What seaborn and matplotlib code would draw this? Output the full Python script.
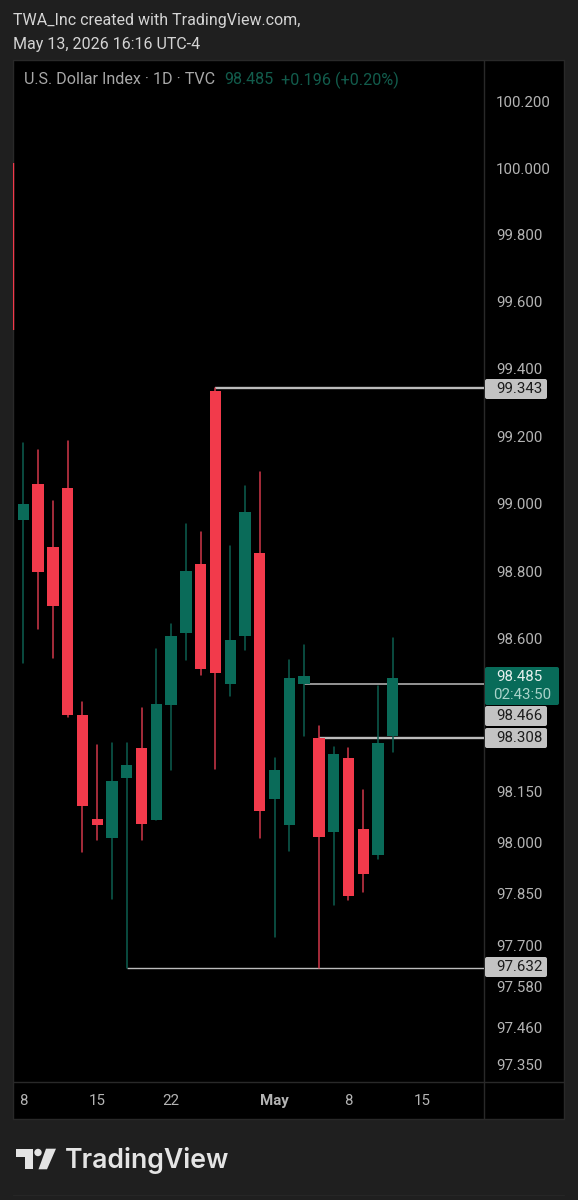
"""TradingView style daily candle chart of the U.S. Dollar Index."""
import matplotlib
matplotlib.use("Agg")
import matplotlib.pyplot as plt
import pandas as pd
import seaborn as sns
from matplotlib.patches import Circle, FancyBboxPatch, Polygon, Rectangle
from matplotlib.transforms import Affine2D

# --- Data (index -1 is the candle cut off by the left edge) ---
day_index = list(range(-1, 26))
opens = [100.015, 98.952, 99.058, 98.871, 99.047, 98.376, 98.069, 98.014, 98.189, 98.279,
         98.065, 98.404, 98.618, 98.822, 99.333, 98.468, 98.609, 98.853, 98.129, 98.053,
         98.466, 98.308, 98.031, 98.249, 98.040, 97.964, 98.312]
closes = [99.516, 98.999, 98.796, 98.697, 98.376, 98.107, 98.051, 98.181, 98.229, 98.055,
          98.409, 98.609, 98.800, 98.510, 98.498, 98.596, 98.975, 98.093, 98.214, 98.483,
          98.489, 98.016, 98.260, 97.843, 97.909, 98.292, 98.485]
highs = [100.015, 99.181, 99.159, 99.009, 99.185, 98.415, 98.286, 98.294, 98.292, 98.397,
         98.569, 98.644, 98.940, 98.916, 99.343, 98.875, 99.051, 99.094, 98.249, 98.538,
         98.581, 98.344, 98.282, 98.279, 98.155, 98.461, 98.601]
lows = [99.516, 98.529, 98.629, 98.544, 98.368, 97.972, 98.008, 97.835, 97.632, 98.008,
        98.065, 98.214, 98.536, 98.493, 98.216, 98.430, 98.567, 98.013, 97.723, 97.974,
        98.314, 97.632, 97.817, 97.832, 97.854, 97.953, 98.267]

price_ticks = [100.2, 100.0, 99.8, 99.6, 99.4, 99.2, 99.0, 98.8, 98.6, 98.15, 98.0,
               97.85, 97.7, 97.58, 97.46, 97.35]
date_ticks = [0, 5, 10, 17, 22, 27]
date_labels = ["8", "15", "22", "May", "8", "15"]

level_prices = [99.343, 98.466, 98.308, 97.632]
level_starts = [13, 19, 20, 7]
level_widths = [1.7, 1.1, 1.7, 1.0]

BG = "#1f1f1f"
BORDER = "#292929"
RED = "#f23a4b"
GREEN = "#0a6b59"
RED_WICK = "#d2384a"
GREEN_WICK = "#0c5f50"
TICK = "#b4b4b4"
LEVEL = "#bcbcbc"


def px_box(x0, y0, x1, y1):
    return [x0 / 578, 1 - y1 / 1200, (x1 - x0) / 578, (y1 - y0) / 1200]


def main():
    sns.set_theme(style="dark", rc={"figure.facecolor": BG, "axes.facecolor": "black"})
    plt.rcParams["font.family"] = ["Roboto", "DejaVu Sans"]

    df = pd.DataFrame({"day": day_index, "open": opens, "close": closes, "high": highs, "low": lows})
    df["up"] = df["close"] >= df["open"]

    fig = plt.figure(figsize=(5.78, 12), dpi=100)
    px = Affine2D().scale(1, -1).translate(0, 1200)  # image pixels, y going down

    # black panel behind price and time scales
    fig.add_artist(Rectangle((13.3, 60), 550.7, 1059, transform=px, fc="black", ec=BORDER, lw=1.0, zorder=-3))
    fig.add_artist(plt.Line2D([484, 484], [60, 1119], transform=px, color=BORDER, lw=1.0, zorder=-2))
    fig.add_artist(plt.Line2D([13.3, 564], [1082, 1082], transform=px, color=BORDER, lw=1.0, zorder=-2))
    fig.add_artist(plt.Line2D([13.3, 564], [1195, 1195], transform=px, color="#262626", lw=0.8, zorder=-2))

    ax = fig.add_axes(px_box(13, 60, 484, 1082))
    ax.patch.set_alpha(0)
    ax.set_yscale("log")
    xlim = (-0.697, 31.17)
    ylim = (97.300, 100.324)
    ax.set_xlim(xlim)
    ax.set_ylim(ylim)

    # levels go under the candles
    for price, start, width in zip(level_prices, level_starts, level_widths):
        ax.hlines(price, start, xlim[1], color=LEVEL, lw=width, zorder=1)

    # wicks, one line per candle
    wicks = df.melt(id_vars=["day", "up"], value_vars=["high", "low"], value_name="price")
    sns.lineplot(data=wicks, x="day", y="price", hue="up", units="day", estimator=None,
                 palette={True: GREEN_WICK, False: RED_WICK}, linewidth=1.1,
                 legend=False, ax=ax, zorder=2)

    # bodies
    body_low = df[["open", "close"]].min(axis=1)
    body_high = df[["open", "close"]].max(axis=1)
    bars = ax.bar(df["day"], body_high - body_low, bottom=body_low, width=0.77,
                  color=[GREEN if u else RED for u in df["up"]], edgecolor="none", linewidth=0, zorder=3)
    bars[0].set_snap(False)

    ax.set_xlim(xlim)
    ax.set_ylim(ylim)
    ax.set_xlabel("")
    ax.set_ylabel("")
    sns.despine(ax=ax, left=True, bottom=True)

    ax.yaxis.tick_right()
    ax.set_yticks(price_ticks)
    ax.set_yticklabels([f"{p:.3f}" for p in price_ticks])
    ax.minorticks_off()
    ax.tick_params(axis="y", length=0, pad=8.5, labelsize=10.8, labelcolor=TICK)
    ax.set_xticks(date_ticks)
    ax.set_xticklabels(date_labels)
    ax.tick_params(axis="x", length=0, pad=8.5, labelsize=10.8, labelcolor=TICK)
    ax.get_xticklabels()[3].set_fontweight("bold")

    # header and legend line
    fig.text(13, 21, "TWA_Inc created with TradingView.com,", transform=px, color="#d4d4d4",
             fontsize=11.5, va="center")
    fig.text(13, 44, "May 13, 2026 16:16 UTC-4", transform=px, color="#d4d4d4",
             fontsize=11.5, va="center")
    fig.text(24, 80, "U.S. Dollar Index · 1D · TVC", transform=px, color="#a8a8a8",
             fontsize=11.6, va="center")
    fig.text(224, 80, "98.485", transform=px, color="#125c4c", fontsize=11.6, va="center")
    fig.text(281, 80, "+0.196 (+0.20%)", transform=px, color="#125c4c", fontsize=11.7, va="center")

    # price labels on the scale
    labels = [("99.343", 389), ("98.466", 716), ("98.308", 738), ("97.632", 967)]
    for text, yc in labels:
        fig.add_artist(FancyBboxPatch((485, yc - 10), 62, 20, boxstyle="round,pad=0,rounding_size=2",
                                      transform=px, fc="#c3c3c3", ec="none"))
        fig.text(519, yc, text, transform=px, color="#1c1c1c", fontsize=10.8, ha="center", va="center")
    fig.add_artist(FancyBboxPatch((485, 667), 74, 38, boxstyle="round,pad=0,rounding_size=2",
                                  transform=px, fc="#086b59", ec="none"))
    fig.text(519, 677, "98.485", transform=px, color="#e6f0ee", fontsize=10.8, ha="center", va="center")
    fig.text(522, 695, "02:43:50", transform=px, color="#a9d3ca", fontsize=10.8, ha="center", va="center")

    # TradingView logo
    logo = "#e4e4e4"
    fig.add_artist(Polygon([(15.5, 1148.7), (33, 1148.7), (33, 1169.3), (24.5, 1169.3),
                            (24.5, 1156.5), (15.5, 1156.5)], transform=px, fc=logo, ec="none"))
    fig.add_artist(Circle((38, 1152.5), 3.7, transform=px, fc=logo, ec="none"))
    fig.add_artist(Polygon([(46, 1148.7), (56, 1148.7), (47, 1169.3), (38.5, 1169.3)],
                           transform=px, fc=logo, ec="none"))
    fig.text(65, 1160, "TradingView", transform=px, color=logo, fontsize=19.2,
             fontweight="semibold", family=["Inter", "DejaVu Sans"], va="center")

    fig.savefig("out.png", dpi=100, facecolor=BG)
    plt.close(fig)


if __name__ == "__main__":
    main()
